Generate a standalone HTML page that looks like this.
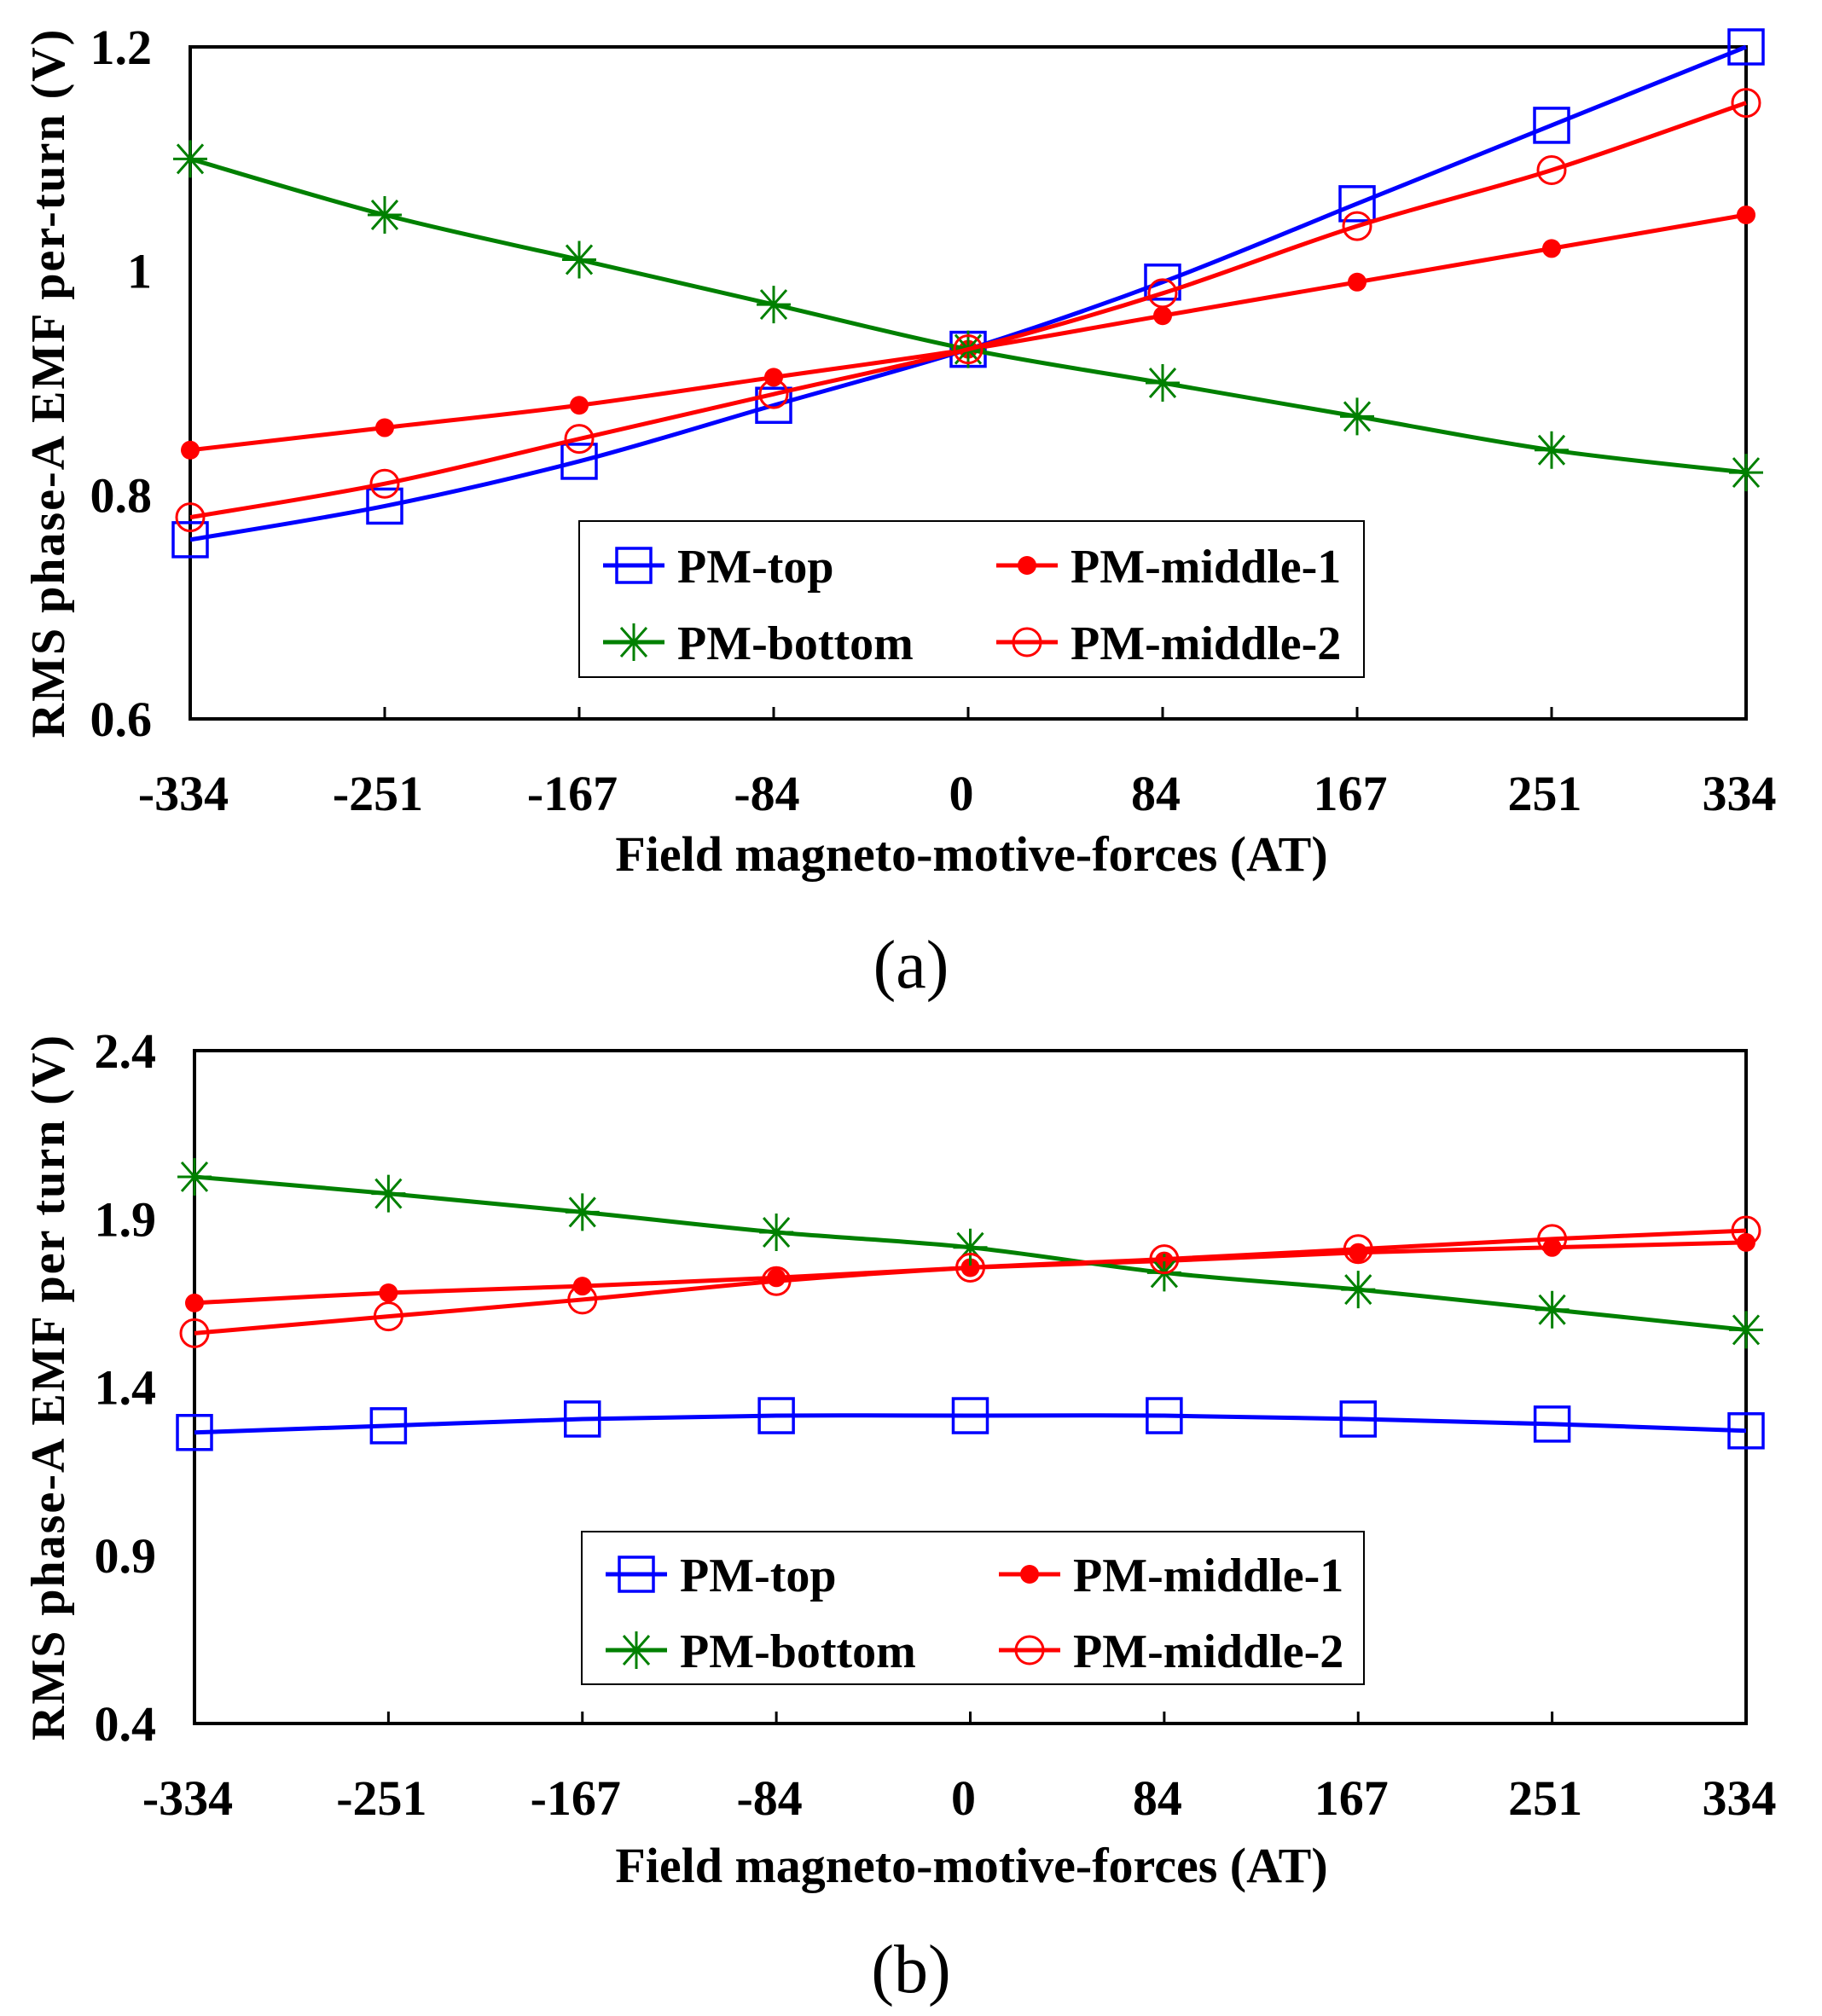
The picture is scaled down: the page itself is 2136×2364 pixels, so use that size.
<!DOCTYPE html>
<html><head><meta charset="utf-8"><style>
html,body{margin:0;padding:0;background:#fff}
svg{display:block}
text{font-family:"Liberation Serif",serif}
</style></head><body>
<svg id="fig" width="2136" height="2364" viewBox="0 0 2136 2364" xmlns="http://www.w3.org/2000/svg"></svg>
<script>
const categories = ["-334","-251","-167","-84","0","84","167","251","334"];
const aTicks = [0.6,0.8,1,1.2];
const aTickLabels = ["0.6","0.8","1","1.2"];
const aTop = [0.76,0.79,0.83,0.88,0.93,0.99,1.06,1.13,1.20];
const aMid1 = [0.84,0.86,0.88,0.905,0.93,0.96,0.99,1.02,1.05];
const aMid2 = [0.78,0.81,0.85,0.89,0.93,0.98,1.04,1.09,1.15];
const aBottom = [1.10,1.05,1.01,0.97,0.93,0.90,0.87,0.84,0.82];
const bTicks = [0.4,0.9,1.4,1.9,2.4];
const bTickLabels = ["0.4","0.9","1.4","1.9","2.4"];
const bTop = [1.265,1.285,1.305,1.315,1.315,1.315,1.305,1.29,1.27];
const bMid1 = [1.65,1.68,1.70,1.725,1.755,1.775,1.80,1.815,1.83];
const bMid2 = [1.56,1.61,1.66,1.715,1.755,1.78,1.81,1.84,1.865];
const bBottom = [2.025,1.975,1.92,1.86,1.815,1.74,1.69,1.63,1.57];

const NS="http://www.w3.org/2000/svg";
const svg=document.getElementById('fig');
function mk(tag,attrs,parent){const e=document.createElementNS(NS,tag);for(const k in attrs)e.setAttribute(k,attrs[k]);(parent||svg).appendChild(e);return e;}
function smooth(pts){let d=`M${pts[0][0]},${pts[0][1]}`;for(let i=0;i<pts.length-1;i++){const p0=pts[Math.max(0,i-1)],p1=pts[i],p2=pts[i+1],p3=pts[Math.min(pts.length-1,i+2)];const c1=[p1[0]+(p2[0]-p0[0])/6,p1[1]+(p2[1]-p0[1])/6],c2=[p2[0]-(p3[0]-p1[0])/6,p2[1]-(p3[1]-p1[1])/6];d+=` C${c1[0]},${c1[1]} ${c2[0]},${c2[1]} ${p2[0]},${p2[1]}`;}return d;}
function marker(g,type,x,y,color){
  if(type==='square'){const m=mk('rect',{x:x-20,y:y-20,width:40,height:40,fill:'none',stroke:color,'stroke-width':3.5},g);}
  else if(type==='circle'){const m=mk('circle',{cx:x,cy:y,r:16,fill:'none',stroke:color,'stroke-width':3},g);}
  else if(type==='dot'){const m=mk('circle',{cx:x,cy:y,r:11,fill:color},g);}
  else {const m=mk('path',{d:`M${x-20},${y}H${x+20}M${x},${y-22}V${y+22}M${x-15},${y-17}L${x+15},${y+17}M${x-15},${y+17}L${x+15},${y-17}`,stroke:color,'stroke-width':3,fill:'none'},g);}
}
function chart(cfg){
  const {L,R,T,B,ymin,ymax,ticks,tickLabels,series,ytitle,legend,cap,xtitleY,capY,name}=cfg;
  const g=mk('g',{});
  const xs=i=>L+(R-L)*i/(categories.length-1);
  const ys=v=>B-(B-T)*(v-ymin)/(ymax-ymin);
  const frame=mk('rect',{x:L,y:T,width:R-L,height:B-T,fill:'none',stroke:'#000','stroke-width':4},g);
  
  categories.forEach((c,i)=>{
    const t=mk('line',{x1:xs(i),x2:xs(i),y1:B,y2:B-14,stroke:'#000','stroke-width':3},g);
    
    const tx=mk('text',{x:xs(i)-8,y:B+107,'font-size':58,'font-weight':'bold','text-anchor':'middle'},g);tx.textContent=c;
    
  });
  ticks.forEach((v,i)=>{
    const tx=mk('text',{x:L-45,y:ys(v)+20,'font-size':58,'font-weight':'bold','text-anchor':'end'},g);tx.textContent=tickLabels[i];
    
  });
  series.forEach(s=>{
    const sg=mk('g',{},g);
    const pts=s.vals.map((v,i)=>[xs(i),ys(v)]);
    const p=mk('path',{d:smooth(pts),fill:'none',stroke:s.color,'stroke-width':5},sg);
    
    pts.forEach(pt=>marker(sg,s.mk,pt[0],pt[1],s.color));
  });
  const yt=mk('text',{x:0,y:0,'font-size':56,'font-weight':'bold','text-anchor':'middle',transform:`translate(75,${(T+B)/2}) rotate(-90)`,'letter-spacing':'2'},g);yt.textContent=ytitle;
  
  const xt=mk('text',{x:1139,y:xtitleY,'font-size':58,'font-weight':'bold','text-anchor':'middle'},g);xt.textContent='Field magneto-motive-forces (AT)';
  
  const lg=mk('g',{},g);
  const lb=mk('rect',{x:legend.x,y:legend.y,width:legend.w,height:legend.h,fill:'#fff',stroke:'#000','stroke-width':2},lg);
  
  const cols=[legend.x+28,legend.x+489],rows=[legend.r1,legend.r2];
  const order=[series[0],series[2],series[1],series[3]];
  order.forEach((s,k)=>{
    const col=Math.floor(k/2),row=k%2;const x0=cols[col],y0=rows[row];
    const eg=mk('g',{},lg);
    mk('line',{x1:x0,x2:x0+72,y1:y0,y2:y0,stroke:s.color,'stroke-width':5},eg);
    marker(eg,s.mk,x0+36,y0,s.color);
    const t=mk('text',{x:x0+87,y:y0+20,'font-size':56,'font-weight':'bold'},eg);t.textContent=s.label;
  });
  const c=mk('text',{x:1068,y:capY,'font-size':80,'text-anchor':'middle'},g);c.textContent=cap;
  
}
chart({name:'chart-a',L:223,R:2047,T:55,B:843,ymin:0.6,ymax:1.2,ticks:aTicks,tickLabels:aTickLabels,
  series:[{key:'pm-top',label:'PM-top',vals:aTop,color:'#0000ff',mk:'square'},
          {key:'pm-middle-1',label:'PM-middle-1',vals:aMid1,color:'#ff0000',mk:'dot'},
          {key:'pm-bottom',label:'PM-bottom',vals:aBottom,color:'#008000',mk:'star'},
          {key:'pm-middle-2',label:'PM-middle-2',vals:aMid2,color:'#ff0000',mk:'circle'}],
  ytitle:'RMS phase-A EMF per-turn (V)',legend:{x:679,y:611,w:920,h:183,r1:663,r2:753},cap:'(a)',xtitleY:1021,capY:1158});
chart({name:'chart-b',L:228,R:2047,T:1232,B:2021,ymin:0.4,ymax:2.4,ticks:bTicks,tickLabels:bTickLabels,
  series:[{key:'pm-top',label:'PM-top',vals:bTop,color:'#0000ff',mk:'square'},
          {key:'pm-middle-1',label:'PM-middle-1',vals:bMid1,color:'#ff0000',mk:'dot'},
          {key:'pm-bottom',label:'PM-bottom',vals:bBottom,color:'#008000',mk:'star'},
          {key:'pm-middle-2',label:'PM-middle-2',vals:bMid2,color:'#ff0000',mk:'circle'}],
  ytitle:'RMS phase-A EMF per turn (V)',legend:{x:682,y:1796,w:917,h:179,r1:1846,r2:1935},cap:'(b)',xtitleY:2207,capY:2336});
</script>
</body></html>
